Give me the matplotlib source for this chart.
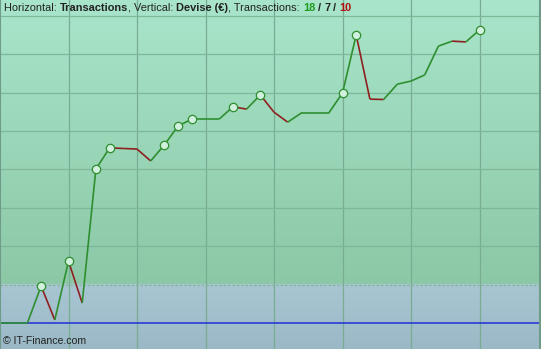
import matplotlib
matplotlib.use('Agg')
import matplotlib.pyplot as plt
import numpy as np
from matplotlib.collections import LineCollection
from matplotlib.transforms import offset_copy

# valeur du portefeuille apres chaque transaction (en €)
valeurs = [0, 0, 0, 960, 80, 1610, 520, 4010, 4560, 4545, 4530, 4220,
           4640, 5130, 5310, 5310, 5310, 5630, 5570, 5940, 5490, 5230,
           5470, 5470, 5470, 5990, 7500, 5830, 5820, 6220, 6300, 6460,
           7210, 7340, 7320, 7630]
# transactions marquees d'un cercle
marques = [3, 5, 7, 8, 12, 13, 14, 17, 19, 25, 26, 35]
nb_gain, nb_neutre, nb_perte = 18, 7, 10
seuil = 1000  # limite de la zone bleue

x = np.arange(len(valeurs))
y = np.array(valeurs, dtype=float)

fig = plt.figure(figsize=(5.41, 3.49), dpi=100)
ax = fig.add_axes([0, 0, 1, 1])
px = 541 / 13.7
xmin, xmax = 0, px
ymax = 323 / 38.4 * 1000
ymin = -26 / 38.4 * 1000
ax.set_xlim(xmin, xmax)
ax.set_ylim(ymin, ymax)
ax.axis('off')

# fond degrade vert puis bleu
t = np.linspace(0, 1, 256)[:, None]
vert_haut = np.array([168, 229, 202]) / 255
vert_bas = np.array([140, 200, 166]) / 255
g = vert_haut * (1 - t[..., None]) + vert_bas * t[..., None]
g = np.repeat(g, 2, axis=1)
ax.imshow(g, extent=[xmin, xmax, seuil, ymax], aspect='auto', zorder=0)
bleu_haut = np.array([168, 198, 210]) / 255
bleu_bas = np.array([154, 184, 198]) / 255
b = bleu_haut * (1 - t[..., None]) + bleu_bas * t[..., None]
b = np.repeat(b, 2, axis=1)
ax.imshow(b, extent=[xmin, xmax, ymin, seuil], aspect='auto', zorder=0)

# grille
for k in range(5, 40, 5):
    ax.axvline(k, color='#78ad94', lw=0.9, zorder=1)
for v in range(2000, 9000, 1000):
    ax.axhline(v, color='#7fb79a', lw=0.9, zorder=1)
ax.axhline(seuil, color='#86b49c', lw=0.9, ls=(0, (2, 1.5)), zorder=1)
ax.axhline(0, color='#2030d8', lw=1.1, zorder=2)

# courbe, segments verts (hausse) et rouges (baisse)
pts = np.column_stack([x, y])
segs = np.stack([pts[:-1], pts[1:]], axis=1)
cols = ['#2f8f2f' if d >= 0 else '#8e2020' for d in np.diff(y)]
ax.add_collection(LineCollection(segs, colors=cols, linewidths=1.2, zorder=3))
ax.plot(x[marques], y[marques], 'o', ms=6, mfc='#d2f0de', mec='#2f8f2f',
        mew=0.9, zorder=4)

# bordures
ax.plot([0.03, 0.03], [ymin, ymax], color='#6f9c88', lw=1.5, zorder=5)
ax.plot([xmax - 0.08, xmax - 0.08], [ymin, ymax], color='#6f9c88', lw=1.5, zorder=5)

# titre
fs = 7.9
fam = 'Liberation Sans'
parts = [('Horizontal: ', 'normal', '#222222'),
         ('Transactions', 'bold', '#222222'),
         (', Vertical: ', 'normal', '#222222'),
         ('Devise (€)', 'bold', '#222222'),
         (', Transactions: ', 'normal', '#222222'),
         (str(nb_gain), 'bold', '#1f9a1f'),
         (' / ', 'bold', '#222222'),
         (str(nb_neutre), 'bold', '#222222'),
         (' / ', 'bold', '#222222'),
         (str(nb_perte), 'bold', '#b01010')]
renderer = fig.canvas.get_renderer()
dx = 0.0
for s, w, c in parts:
    tr = offset_copy(ax.transAxes, fig=fig, x=dx, y=0, units='dots')
    tt = ax.text(4 / 541, 1 - 11 / 349, s, transform=tr, fontsize=fs,
                 fontweight=w, color=c, family=fam, va='baseline',
                 ha='left', zorder=6)
    dx += tt.get_window_extent(renderer).width

ax.text(3 / 541, 1 - 346 / 349, '© IT-Finance.com', transform=ax.transAxes,
        fontsize=7.6, color='#222222', family=fam, va='bottom', ha='left',
        zorder=6)

fig.savefig('out.png', dpi=100)
